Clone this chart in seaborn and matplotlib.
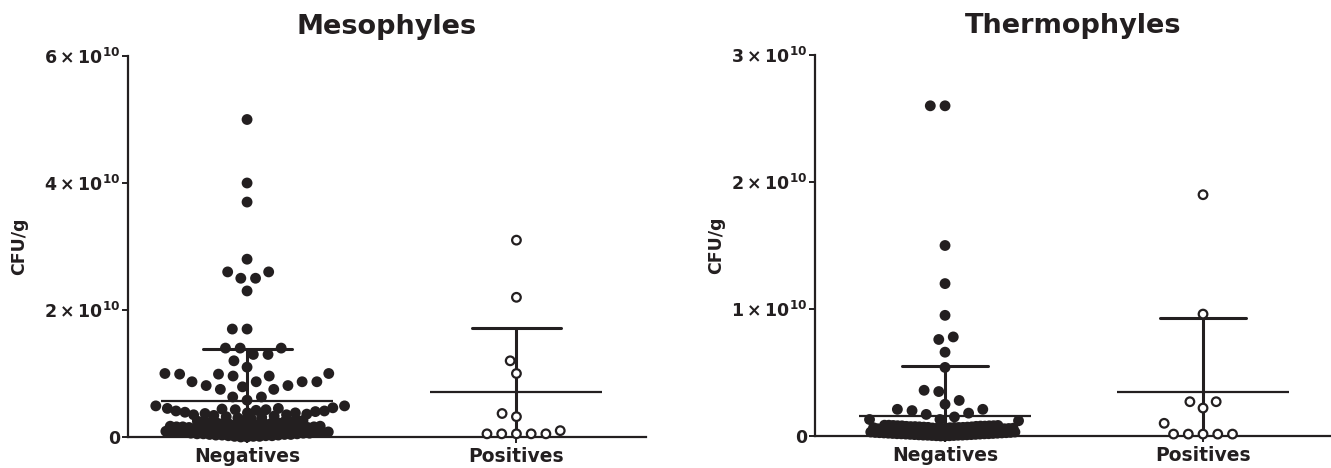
import numpy as np
import pandas as pd
import matplotlib
matplotlib.use('Agg')
import matplotlib.pyplot as plt
import seaborn as sns
from matplotlib.ticker import FixedLocator, FuncFormatter

# ---------------- data (CFU/g, in units of 1e10) ----------------
SCALE = 1e10
groups = ['Negatives', 'Positives']
titles = ['Mesophyles', 'Thermophyles']

meso_neg = [5.0, 4.0, 3.7, 2.8, 2.6, 2.6, 2.5, 2.5, 2.3, 1.7, 1.7, 1.4, 1.4, 1.4,
            1.3, 1.3, 1.2, 1.1, 1.0, 1.0, 0.99, 0.99, 0.96, 0.96, 0.87, 0.87, 0.87,
            0.87, 0.81, 0.81, 0.79, 0.75, 0.75, 0.63, 0.63, 0.58, 0.49, 0.49,
            0.30, 0.31, 0.32, 0.33, 0.34, 0.35, 0.35, 0.36, 0.37, 0.38, 0.38, 0.39,
            0.40, 0.41, 0.41, 0.42, 0.43, 0.43, 0.44, 0.45, 0.45, 0.46,
            0.00, 0.00, 0.01, 0.01, 0.01, 0.02, 0.02, 0.02, 0.03, 0.03, 0.03, 0.04,
            0.04, 0.04, 0.05, 0.05, 0.05, 0.06, 0.06, 0.06, 0.07, 0.07, 0.07, 0.08,
            0.08, 0.08, 0.09, 0.09, 0.09, 0.10, 0.10, 0.10, 0.11, 0.11, 0.11, 0.12,
            0.12, 0.12, 0.13, 0.13, 0.13, 0.14, 0.14, 0.14, 0.15, 0.15, 0.15, 0.16,
            0.16, 0.16, 0.17, 0.17, 0.18, 0.18, 0.19, 0.19, 0.20, 0.20, 0.21, 0.21,
            0.22, 0.22, 0.23, 0.23, 0.24, 0.24, 0.25, 0.25, 0.26, 0.26, 0.27, 0.28]
meso_pos = [3.1, 2.2, 1.2, 1.0, 0.37, 0.32, 0.05, 0.05, 0.05, 0.05, 0.05, 0.10]

thermo_neg = [2.6, 2.6, 1.5, 1.2, 0.95, 0.78, 0.76, 0.66, 0.54, 0.36, 0.35, 0.28,
              0.25, 0.21, 0.21, 0.20, 0.18, 0.17, 0.15, 0.13, 0.13, 0.12,
              0.000, 0.000, 0.002, 0.002, 0.004, 0.004, 0.006, 0.006, 0.007, 0.007,
              0.009, 0.009, 0.011, 0.011, 0.013, 0.013, 0.015, 0.015, 0.017, 0.017,
              0.018, 0.018, 0.020, 0.020, 0.022, 0.022, 0.024, 0.024, 0.026, 0.026,
              0.028, 0.028, 0.030, 0.030, 0.031, 0.031, 0.033, 0.033, 0.035, 0.035,
              0.037, 0.037, 0.039, 0.039, 0.041, 0.041, 0.043, 0.043, 0.044, 0.044,
              0.046, 0.046, 0.048, 0.048, 0.050, 0.050, 0.052, 0.052, 0.054, 0.054,
              0.055, 0.055, 0.057, 0.057, 0.059, 0.059, 0.061, 0.061, 0.063, 0.063,
              0.065, 0.065, 0.067, 0.067, 0.068, 0.068, 0.070, 0.070, 0.072, 0.072,
              0.074, 0.074, 0.076, 0.076, 0.078, 0.078, 0.080, 0.080, 0.081, 0.081,
              0.083, 0.083, 0.085, 0.085]
thermo_pos = [1.9, 0.96, 0.27, 0.27, 0.22, 0.10, 0.015, 0.015, 0.015, 0.015, 0.015]

meso_ticks = [0, 2, 4, 6]
thermo_ticks = [0, 1, 2, 3]

# ---------------- style ----------------
sns.set_style('ticks')
plt.rcParams['font.family'] = ['DejaVu Sans']
plt.rcParams['font.weight'] = 'bold'
plt.rcParams['mathtext.fontset'] = 'dejavusans'
INK = '#231f20'
EDGE = 1.6
DRAW_SIZE = 6.2      # marker size actually drawn (pt)
SPARSE_LAYOUT = 8.5  # swarm spacing size for sparse points (pt)


def make_df(neg, pos):
    return pd.DataFrame({
        'group': ['Negatives'] * len(neg) + ['Positives'] * len(pos),
        'cfu': np.array(list(neg) + list(pos)) * SCALE,
    })


def fmt(v, pos):
    n = int(round(v / SCALE))
    if n == 0:
        return '0'
    return r'$\mathbf{%d\times10^{10}}$' % n


fig = plt.figure(figsize=(13.31, 4.68), dpi=100)
ax1 = fig.add_axes([128 / 1331, 31 / 468, 518 / 1331, 381 / 468])
ax2 = fig.add_axes([815 / 1331, 32 / 468, 516 / 1331, 381 / 468])

# (axis, data, ticks, xlim, ylabel x, [(upper value bound, swarm layout size), ...])
panels = [
    (ax1, make_df(meso_neg, meso_pos), meso_ticks, (-0.442, 1.481), -0.193,
     [(0.29, 2.7), (0.48, 4.6)]),
    (ax2, make_df(thermo_neg, thermo_pos), thermo_ticks, (-0.504, 1.496), -0.174,
     [(0.10, 1.4)]),
]

for (ax, df, ticks, xl, labx, bands), title in zip(panels, titles):
    sns.swarmplot(data=df, x='group', y='cfu', order=groups, hue='group',
                  hue_order=groups, palette={'Negatives': INK, 'Positives': 'white'},
                  edgecolor=INK, linewidth=EDGE, size=DRAW_SIZE, legend=False,
                  warn_thresh=1.0, ax=ax)
    # swarm spacing: tight where values crowd near zero, roomy elsewhere
    for coll in ax.collections:
        coll.set_clip_on(False)
        off = np.asarray(coll.get_offsets())
        if len(off) == 0:
            continue
        is_pos = np.nanmean(off[:, 0]) > 0.5
        y = off[:, 1] / SCALE
        s = np.full(len(y), SPARSE_LAYOUT)
        if not is_pos:
            for bound, size in reversed(bands):
                s = np.where(y < bound, size, s)
        coll.set_sizes(s ** 2)
    sns.pointplot(data=df, x='group', y='cfu', order=groups, errorbar='sd',
                  capsize=0.33, color=INK, marker='_', markersize=124,
                  markeredgewidth=1.6, linestyle='none',
                  err_kws={'linewidth': 2.2}, ax=ax)
    ax.set_xlim(*xl)
    ax.set_ylim(0, ticks[-1] * SCALE)
    ax.yaxis.set_major_locator(FixedLocator([t * SCALE for t in ticks]))
    ax.yaxis.set_major_formatter(FuncFormatter(fmt))
    sns.despine(ax=ax)
    for s_ in ['left', 'bottom']:
        ax.spines[s_].set_linewidth(1.6)
        ax.spines[s_].set_color(INK)
    ax.tick_params(axis='y', length=4.5, width=1.4, pad=1, labelsize=12.5,
                   colors=INK)
    ax.tick_params(axis='x', length=4, width=1.4, pad=3, labelsize=13.5,
                   colors=INK)
    for lab in ax.get_xticklabels() + ax.get_yticklabels():
        lab.set_fontweight('bold')
    ax.set_xlabel('')
    ax.set_ylabel('CFU/g', fontsize=12.5, fontweight='bold', color=INK)
    ax.yaxis.set_label_coords(labx, 0.5)
    ax.set_title(title, fontsize=19.5, fontweight='bold', color=INK, pad=16)

# let seaborn compute the swarm layout, then freeze it and draw uniform markers
fig.canvas.draw()
for ax in (ax1, ax2):
    for coll in ax.collections:
        if 'draw' in coll.__dict__:
            del coll.draw
        coll.set_sizes([DRAW_SIZE ** 2])

fig.savefig('out.png', dpi=100)
